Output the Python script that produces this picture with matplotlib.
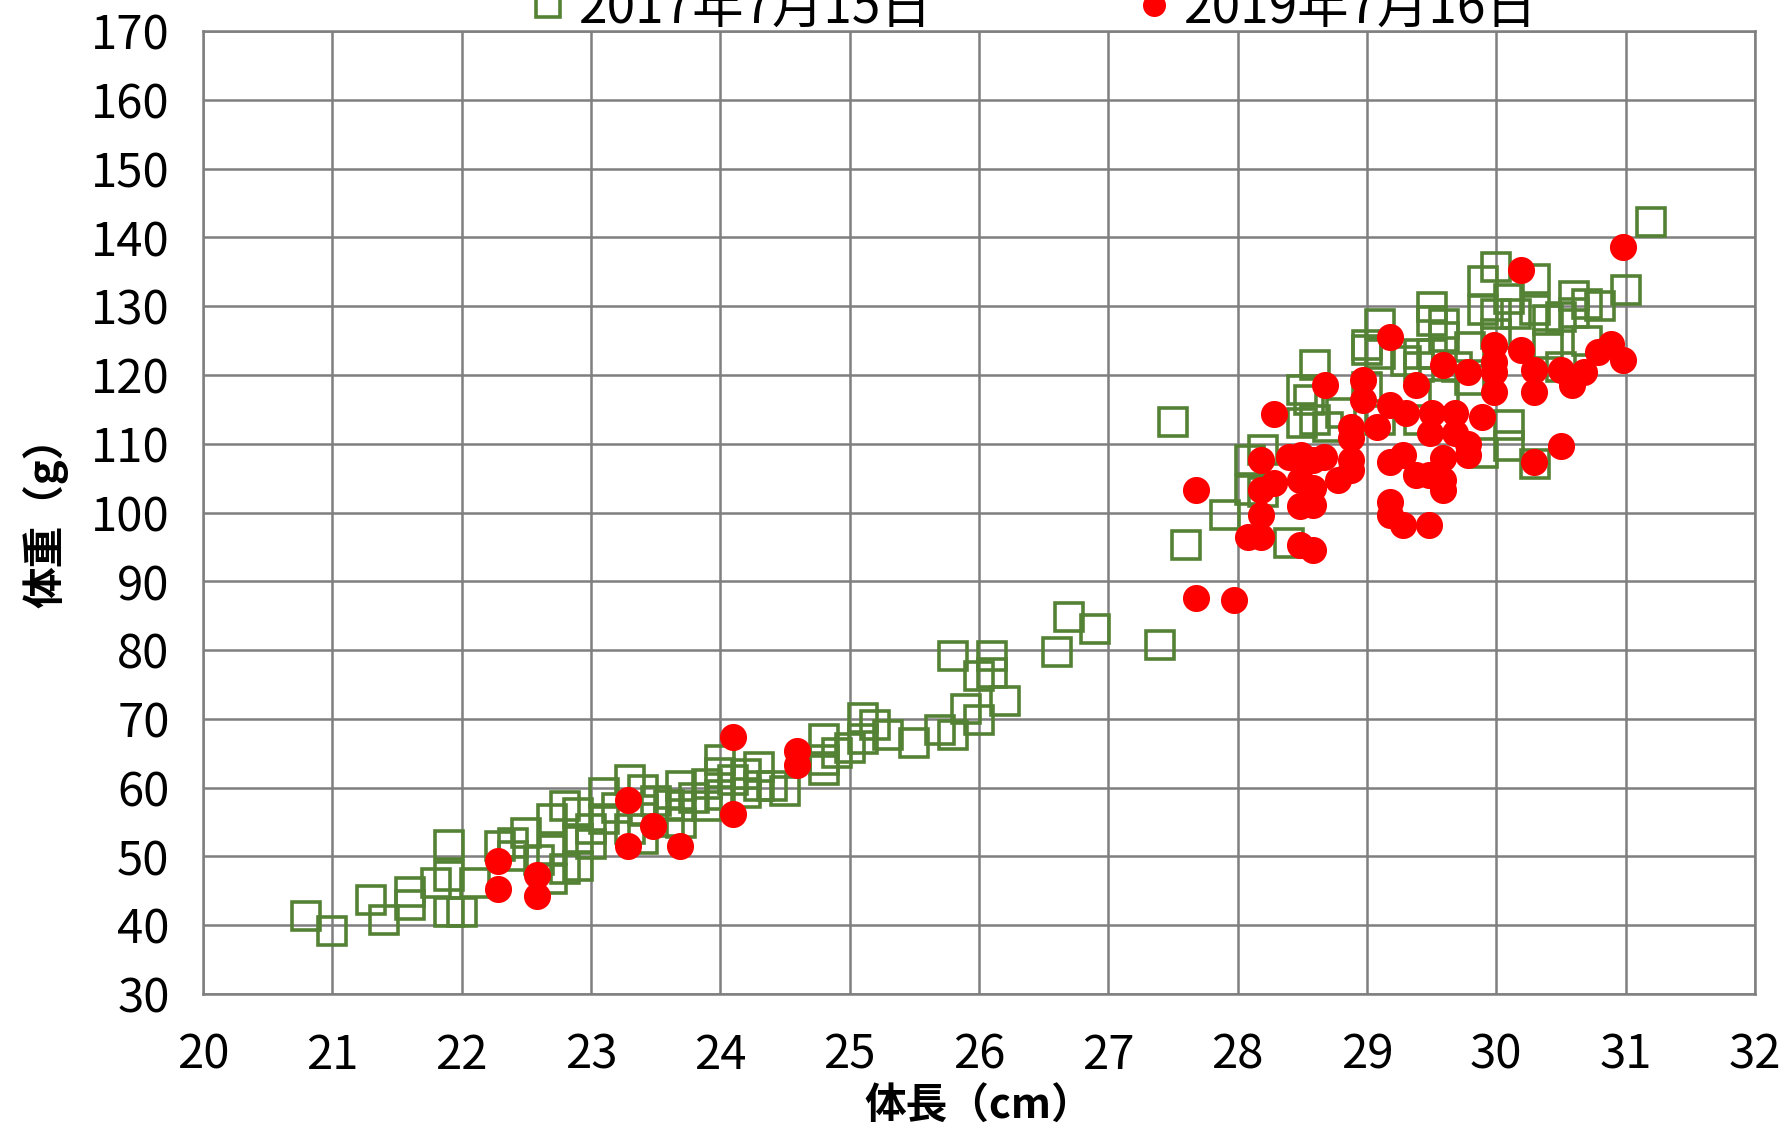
import matplotlib
matplotlib.use("Agg")
import matplotlib.pyplot as plt
import numpy as np

plt.rcParams['font.family'] = ['Noto Sans CJK JP', 'DejaVu Sans']

label_2017 = "2017年7月15日"
label_2019 = "2019年7月16日"

# 2017 data (body length cm, body weight g)
len_2017 = [20.8, 21.0, 21.3, 21.4, 21.6, 21.6, 21.8, 21.9, 21.9, 21.9, 22.0, 22.1,
            22.3, 22.4, 22.5, 22.4, 22.6, 22.7, 22.7, 22.7, 22.8, 22.8, 22.9, 22.9,
            22.9, 23.0, 23.0, 23.1, 23.1, 23.2, 23.3, 23.3, 23.4, 23.4, 23.4, 23.5,
            23.6, 23.6, 23.7, 23.7, 23.7, 23.8, 23.9, 23.9, 24.0, 24.0, 24.0, 24.1,
            24.2, 24.2, 24.3, 24.3, 24.4, 24.5, 24.8, 24.8, 24.8, 24.9, 25.0, 25.1,
            25.1, 25.2, 25.3, 25.5, 25.7, 25.8, 25.8, 25.9, 26.0, 26.0, 26.1, 26.1,
            26.2, 26.6, 26.7, 26.9, 27.4, 27.5, 27.6, 27.9, 28.1, 28.1, 28.2, 28.2,
            28.4, 28.5, 28.5, 28.55, 28.6, 28.6, 28.7, 28.8, 29.0, 29.0, 29.0, 29.1,
            29.1, 29.1, 29.3, 29.4, 29.4, 29.4, 29.5, 29.5, 29.5, 29.6, 29.6, 29.6,
            29.7, 29.8, 29.8, 29.9, 29.9, 29.9, 30.0, 30.0, 30.0, 30.1, 30.1, 30.1,
            30.15, 30.3, 30.3, 30.3, 30.4, 30.4, 30.5, 30.5, 30.6, 30.6, 30.7, 30.7,
            30.8, 31.0, 31.2]
wt_2017 = [41.3, 39.2, 43.7, 40.7, 44.8, 42.9, 46.2, 51.7, 47.2, 41.9, 41.9, 46.2,
           51.5, 52.0, 53.4, 50.1, 49.5, 55.4, 46.7, 51.0, 57.3, 48.2, 56.3, 52.5,
           48.6, 54.0, 51.8, 59.2, 55.5, 57.0, 61.1, 54.0, 59.7, 56.8, 52.5, 58.0,
           57.5, 55.0, 60.2, 57.3, 54.9, 58.5, 60.6, 57.3, 64.0, 62.1, 59.0, 61.1,
           59.2, 62.0, 63.0, 60.2, 60.2, 59.5, 67.1, 62.5, 64.0, 65.1, 65.8, 70.1,
           67.1, 69.1, 67.6, 66.5, 68.4, 79.2, 67.6, 71.4, 69.8, 76.2, 79.2, 76.7,
           72.6, 79.7, 84.8, 83.0, 80.7, 113.2, 95.3, 99.6, 103.3, 107.6, 109.1, 103.0,
           95.6, 117.8, 113.0, 116.3, 121.4, 113.4, 112.5, 114.4, 124.3, 123.6, 118.3, 127.4,
           123.1, 113.4, 122.1, 123.1, 121.2, 113.4, 129.9, 127.9, 123.1, 127.4, 125.5, 117.3,
           121.2, 124.0, 119.2, 133.7, 129.4, 108.6, 135.7, 128.9, 126.0, 131.0, 112.7, 109.6,
           128.9, 134.0, 129.4, 107.1, 128.0, 124.5, 128.4, 121.2, 131.5, 129.0, 130.3, 125.0,
           130.0, 132.3, 142.2]

# 2019 data
len_2019 = [22.28, 22.28, 22.58, 22.58, 23.29, 23.29, 23.48, 23.69, 24.1, 24.1, 24.59, 24.59,
            27.68, 27.68, 27.97, 28.08, 28.18, 28.18, 28.18, 28.18, 28.28, 28.28, 28.4, 28.48,
            28.48, 28.48, 28.49, 28.58, 28.58, 28.58, 28.58, 28.67, 28.68, 28.78, 28.88, 28.88,
            28.88, 28.88, 28.97, 28.97, 29.08, 29.18, 29.18, 29.18, 29.18, 29.18, 29.28, 29.28,
            29.3, 29.38, 29.38, 29.48, 29.48, 29.49, 29.5, 29.59, 29.59, 29.59, 29.59, 29.68,
            29.68, 29.78, 29.78, 29.78, 29.89, 29.98, 29.98, 29.98, 29.98, 30.19, 30.19, 30.29,
            30.29, 30.29, 30.5, 30.5, 30.59, 30.68, 30.79, 30.89, 30.98, 30.98]
wt_2019 = [49.4, 45.3, 47.3, 44.3, 58.2, 51.5, 54.4, 51.5, 67.4, 56.2, 65.3, 63.3,
           103.3, 87.6, 87.3, 96.5, 107.6, 103.3, 99.7, 96.5, 114.3, 104.3, 108.1, 104.7,
           100.9, 95.3, 108.4, 103.5, 101.1, 94.6, 107.6, 108.1, 118.5, 104.7, 112.5, 110.8,
           107.6, 106.2, 119.3, 116.3, 112.5, 125.5, 115.6, 107.4, 101.6, 99.7, 98.2, 108.4,
           114.4, 118.5, 105.5, 105.5, 98.2, 111.5, 114.4, 121.4, 107.9, 104.7, 103.3, 114.4,
           111.5, 120.4, 110.0, 108.4, 113.9, 124.3, 121.9, 120.4, 117.5, 135.3, 123.6, 120.7,
           117.5, 107.4, 120.7, 109.6, 118.5, 120.4, 123.3, 124.5, 138.6, 122.2]

fig = plt.figure(figsize=(17.87, 11.33), dpi=100)
ax = fig.add_axes([0.1136, 0.1227, 0.8684, 0.8499])

ax.plot(len_2017, wt_2017, linestyle='none', marker='s', markersize=20,
        markerfacecolor='none', markeredgecolor='#548235', markeredgewidth=2.6,
        label=label_2017, zorder=3)
ax.plot(len_2019, wt_2019, linestyle='none', marker='o', markersize=19.5,
        markerfacecolor='#FF0000', markeredgecolor='#FF0000', markeredgewidth=0,
        label=label_2019, zorder=4)

ax.set_xlim(20, 32)
ax.set_ylim(30, 170)
ax.set_xticks(np.arange(20, 33, 1))
ax.set_yticks(np.arange(30, 171, 10))
ax.grid(True, color='#7f7f7f', linewidth=1.8)
ax.set_axisbelow(True)
for s in ax.spines.values():
    s.set_color('#7f7f7f')
    s.set_linewidth(1.8)
ax.tick_params(length=0, labelsize=34)
ax.tick_params(axis='x', pad=27)
ax.tick_params(axis='y', pad=24)

ax.set_xlabel("体長（cm）", fontsize=30, fontweight='bold', labelpad=4)
ax.set_ylabel("体重（g）", fontsize=30, fontweight='bold', labelpad=16)

fig.legend(loc='center', bbox_to_anchor=(0.578, 0.993), ncol=2, frameon=False,
           fontsize=37, markerscale=0.85, columnspacing=3.9, handletextpad=0.2,
           handlelength=0.8)

fig.savefig("out.png", dpi=100)
